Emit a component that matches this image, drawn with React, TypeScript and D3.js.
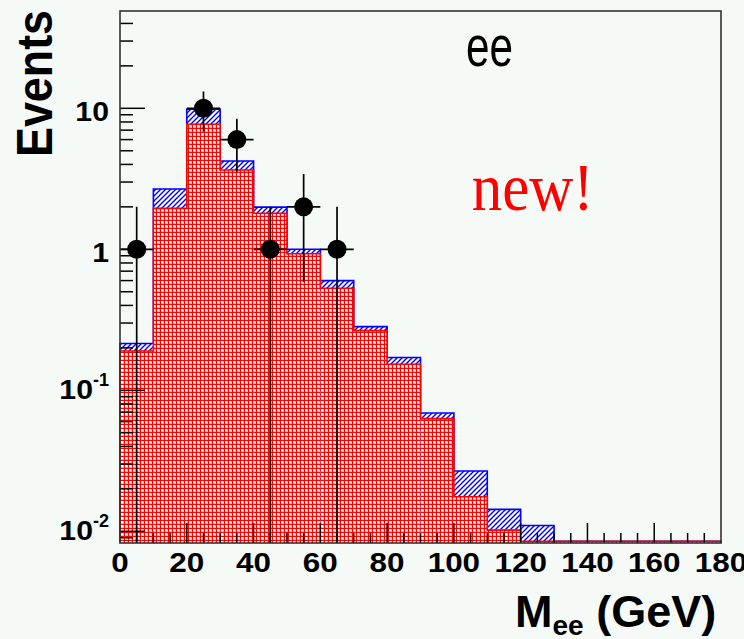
import React, { useRef, useEffect } from "react";
import * as d3 from "d3";

const WIDTH = 744;
const HEIGHT = 639;

// bin lower edges (GeV), 10 GeV wide
const binEdges = [0, 10, 20, 30, 40, 50, 60, 70, 80, 90, 100, 110, 120, 130, 140, 150, 160, 170];
// red (checkered) histogram
const redValues = [0.19, 1.95, 7.7, 3.65, 1.8, 0.93, 0.53, 0.265, 0.153, 0.063, 0.0176, 0.0102, 0.0085, 0.0085, 0.0085, 0.0085, 0.0085, 0.0085];
// total (blue hatched on top)
const totalValues = [0.215, 2.68, 9.85, 4.23, 1.99, 1.0, 0.6, 0.283, 0.171, 0.069, 0.0268, 0.0143, 0.011, 0.0085, 0.0085, 0.0085, 0.0085, 0.0085];

// data points
const dataCenters = [5, 25, 35, 45, 55, 65];
const dataCounts = [1, 10, 6, 1, 2, 1];

const yMajorTicks = [0.01, 0.1, 1, 10];
const yTickLabels = [
  { base: "10", exp: "-2" },
  { base: "10", exp: "-1" },
  { base: "1", exp: "" },
  { base: "10", exp: "" },
];
const xLabelTicks = [0, 20, 40, 60, 80, 100, 120, 140, 160, 180];

const BG = "#f6faf6";
const RED = "#ff0000";
const BLUE = "#0000ff";

const App: React.FC = () => {
  const svgRef = useRef<SVGSVGElement | null>(null);

  const drawChart = () => {
    if (!svgRef.current) return;
    const svg = d3.select(svgRef.current);
    svg.selectAll("*").remove();

    const left = 120, right = 721, top = 11, bottom = 543;
    const x = d3.scaleLinear().domain([0, 180]).range([left, right]);
    const y = d3.scaleLog().domain([0.00826, 49]).range([bottom, top]).clamp(true);

    const defs = svg.append("defs");
    // checkered red fill
    const chk = defs.append("pattern")
      .attr("id", "checker").attr("patternUnits", "userSpaceOnUse")
      .attr("width", 4).attr("height", 4);
    chk.append("rect").attr("width", 4).attr("height", 4).attr("fill", RED);
    chk.append("rect").attr("x", 1).attr("y", 1).attr("width", 3).attr("height", 3).attr("fill", "#ffb4b4");
    chk.append("rect").attr("x", 1).attr("y", 1).attr("width", 2).attr("height", 2).attr("fill", "#ffffff");
    // blue hatch
    const hat = defs.append("pattern")
      .attr("id", "hatch").attr("patternUnits", "userSpaceOnUse")
      .attr("width", 5).attr("height", 5);
    hat.append("rect").attr("width", 5).attr("height", 5).attr("fill", "#ffffff");
    hat.append("path")
      .attr("d", "M0,5 L5,0 M-1,1 L1,-1 M4,6 L6,4")
      .attr("stroke", BLUE).attr("stroke-width", 1.4);

    svg.append("rect").attr("width", WIDTH).attr("height", HEIGHT).attr("fill", BG);

    const bins = binEdges.map((lo, i) => ({ lo, hi: lo + 10, red: redValues[i], total: totalValues[i] }));

    // total (blue hatched)
    svg.append("g").selectAll("rect").data(bins).enter().append("rect")
      .attr("x", d => x(d.lo)).attr("width", d => x(d.hi) - x(d.lo))
      .attr("y", d => y(d.total)).attr("height", d => bottom - y(d.total))
      .attr("fill", "url(#hatch)");

    const stepLine = d3.line<[number, number]>()
      .x(d => x(d[0])).y(d => y(d[1]))
      .curve(d3.curveStepAfter);

    const stepPoints = (vals: number[]): [number, number][] => {
      const pts: [number, number][] = [[0, 0.00826]];
      binEdges.forEach((lo, i) => pts.push([lo, vals[i]]));
      pts.push([180, vals[vals.length - 1]]);
      pts.push([180, 0.00826]);
      return pts;
    };

    svg.append("path")
      .attr("d", stepLine(stepPoints(totalValues)))
      .attr("fill", "none").attr("stroke", BLUE).attr("stroke-width", 1.6);

    // red checkered
    svg.append("g").selectAll("rect").data(bins).enter().append("rect")
      .attr("x", d => x(d.lo)).attr("width", d => x(d.hi) - x(d.lo))
      .attr("y", d => y(d.red)).attr("height", d => bottom - y(d.red))
      .attr("fill", "url(#checker)");

    svg.append("path")
      .attr("d", stepLine(stepPoints(redValues)))
      .attr("fill", "none").attr("stroke", RED).attr("stroke-width", 1.6);

    // data points with sqrt(N) errors
    const pts = dataCenters.map((c, i) => ({ c, n: dataCounts[i], e: Math.sqrt(dataCounts[i]) }));
    const gp = svg.append("g");
    gp.selectAll(".v").data(pts).enter().append("line")
      .attr("x1", d => x(d.c)).attr("x2", d => x(d.c))
      .attr("y1", d => y(d.n + d.e))
      .attr("y2", d => (d.n - d.e > 0 ? y(d.n - d.e) : bottom))
      .attr("stroke", "#000").attr("stroke-width", 1.7);
    gp.selectAll(".h").data(pts).enter().append("line")
      .attr("x1", d => x(d.c - 5)).attr("x2", d => x(d.c + 5))
      .attr("y1", d => y(d.n)).attr("y2", d => y(d.n))
      .attr("stroke", "#000").attr("stroke-width", 1.7);
    gp.selectAll("circle").data(pts).enter().append("circle")
      .attr("cx", d => x(d.c)).attr("cy", d => y(d.n)).attr("r", 9.5)
      .attr("fill", "#000");

    // y ticks (inside, from left axis)
    const yMinor: number[] = [];
    [0.001, 0.01, 0.1, 1, 10].forEach(dec => {
      for (let k = 2; k <= 9; k++) {
        const v = dec * k;
        if (v >= 0.00826 && v <= 49) yMinor.push(v);
      }
    });
    const gt = svg.append("g").attr("stroke", "#000").attr("stroke-width", 1.5);
    yMinor.forEach(v => {
      gt.append("line").attr("x1", left).attr("x2", left + 13).attr("y1", y(v)).attr("y2", y(v));
    });
    yMajorTicks.forEach(v => {
      gt.append("line").attr("x1", left).attr("x2", left + 25).attr("y1", y(v)).attr("y2", y(v));
    });
    // x ticks (inside, from bottom axis)
    d3.range(5, 180, 5).forEach(v => {
      const len = v % 20 === 0 ? 20 : 10;
      gt.append("line").attr("x1", x(v)).attr("x2", x(v)).attr("y1", bottom).attr("y2", bottom - len);
    });

    // frame
    svg.append("rect")
      .attr("x", left).attr("y", top).attr("width", right - left).attr("height", bottom - top)
      .attr("fill", "none").attr("stroke", "#333").attr("stroke-width", 1.6);

    const font = "'Liberation Sans', Arial, Helvetica, sans-serif";
    const digitW = 0.556 * 27 * 1.12;

    // y tick labels
    yMajorTicks.forEach((v, i) => {
      const lab = yTickLabels[i];
      const t = svg.append("text")
        .attr("x", 109).attr("y", y(v) + (lab.exp ? 9 : 13))
        .attr("text-anchor", "end").attr("font-family", font).attr("font-weight", "bold")
        .attr("font-size", 27).attr("fill", "#000");
      if (lab.exp) {
        t.append("tspan").attr("textLength", lab.base.length * digitW).attr("lengthAdjust", "spacingAndGlyphs").text(lab.base);
        t.append("tspan").attr("dy", -13).attr("font-size", 18).text(lab.exp);
      } else {
        t.attr("textLength", lab.base.length * digitW).attr("lengthAdjust", "spacingAndGlyphs").text(lab.base);
      }
    });

    // x tick labels
    svg.append("g").selectAll("text").data(xLabelTicks).enter().append("text")
      .attr("x", d => x(d)).attr("y", 572)
      .attr("text-anchor", "middle").attr("font-family", font).attr("font-weight", "bold")
      .attr("font-size", 27).attr("fill", "#000")
      .attr("textLength", d => String(d).length * digitW * 1.04).attr("lengthAdjust", "spacingAndGlyphs")
      .text(d => String(d));

    // axis titles
    svg.append("text")
      .attr("transform", "translate(51.7,83.5) rotate(-90)")
      .attr("text-anchor", "middle").attr("font-family", font).attr("font-weight", "bold")
      .attr("font-size", 50).attr("textLength", 147).attr("lengthAdjust", "spacingAndGlyphs")
      .attr("fill", "#000").text("Events");

    const xt = svg.append("text")
      .attr("x", 515).attr("y", 627)
      .attr("font-family", font).attr("font-weight", "bold").attr("font-size", 45).attr("fill", "#000");
    xt.append("tspan").text("M");
    xt.append("tspan").attr("dy", 8).attr("font-size", 28).text("ee");
    xt.append("tspan").attr("dy", -8).text(" (GeV)");

    // annotations
    svg.append("text")
      .attr("x", 466).attr("y", 66)
      .attr("font-family", font).attr("font-size", 57)
      .attr("textLength", 47).attr("lengthAdjust", "spacingAndGlyphs")
      .attr("fill", "#000").text("ee");

    svg.append("text")
      .attr("x", 471.7).attr("y", 210)
      .attr("font-family", "'Liberation Serif', 'Times New Roman', serif").attr("font-size", 68)
      .attr("textLength", 122).attr("lengthAdjust", "spacingAndGlyphs")
      .attr("fill", RED).text("new!");
  };

  useEffect(() => {
    drawChart();
  }, []);

  return (
    <svg
      ref={svgRef}
      width={WIDTH}
      height={HEIGHT}
      style={{ position: "absolute", left: 0, top: 0, display: "block" }}
    ></svg>
  );
};

export default App;
